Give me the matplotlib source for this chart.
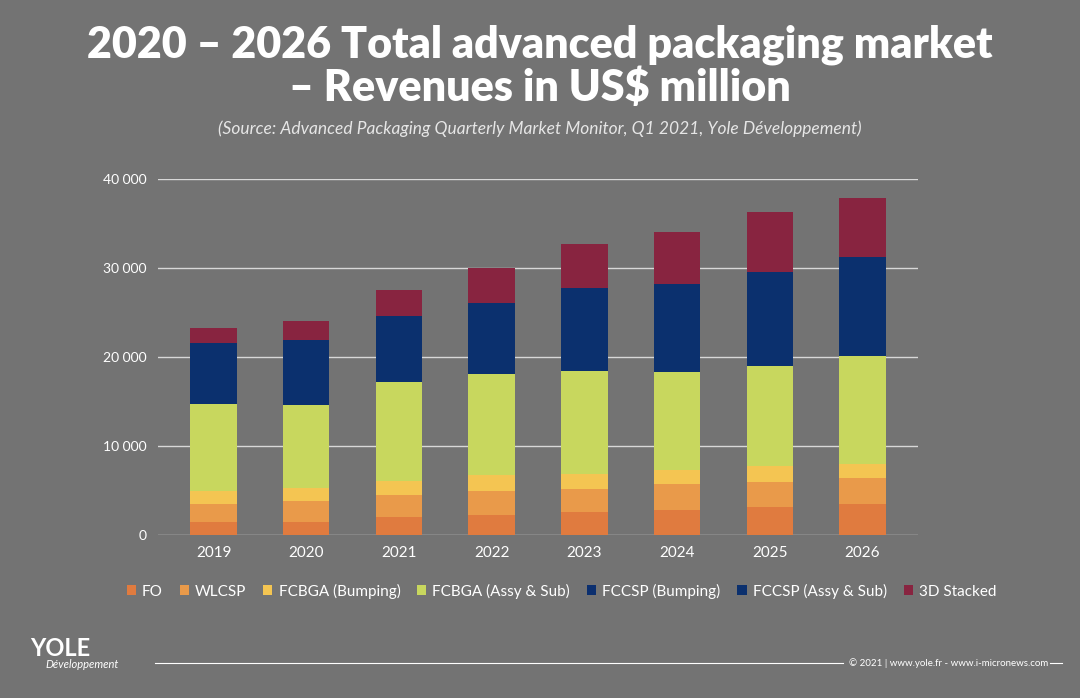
import matplotlib
matplotlib.use("Agg")
import matplotlib.pyplot as plt
import numpy as np

years = ["2019", "2020", "2021", "2022", "2023", "2024", "2025", "2026"]
series_names = ["FO", "WLCSP", "FCBGA (Bumping)", "FCBGA (Assy & Sub)",
                "FCCSP (Bumping)", "FCCSP (Assy & Sub)", "3D Stacked"]
fo = [1490, 1490, 2000, 2200, 2600, 2850, 3150, 3450]
wlcsp = [2030, 2330, 2500, 2700, 2600, 2850, 2850, 2950]
fcbga_bump = [1420, 1420, 1570, 1800, 1700, 1600, 1700, 1600]
fcbga_assy = [9760, 9360, 11130, 11400, 11500, 11050, 11300, 12100]
fccsp_bump = [0, 0, 0, 0, 0, 0, 0, 0]
fccsp_assy = [6900, 7300, 7400, 8000, 9400, 9850, 10600, 11100]
stacked_3d = [1700, 2100, 2900, 3900, 4900, 5900, 6700, 6700]
yticks = [0, 10000, 20000, 30000, 40000]
ytick_labels = ["0", "10 000", "20 000", "30 000", "40 000"]

colors = ["#e07b3f", "#e99a4a", "#f4c552", "#c8d75e", "#0b2f6f", "#0b306e", "#882440"]
data = [fo, wlcsp, fcbga_bump, fcbga_assy, fccsp_bump, fccsp_assy, stacked_3d]

bg = "#737373"
fig = plt.figure(figsize=(10.8, 6.98), dpi=100, facecolor=bg)
ax = fig.add_axes([158/1080, 1-535/698, (918-158)/1080, (535-179)/698], facecolor=bg)

x = np.arange(len(years))
bottom = np.zeros(len(years))
handles = []
for name, vals, c in zip(series_names, data, colors):
    b = ax.bar(x, vals, 0.5, bottom=bottom, color=c, label=name, zorder=3)
    handles.append(b)
    bottom += np.array(vals)

ax.set_xlim(-0.6, len(years) - 0.4)
ax.set_ylim(0, 40000)
ax.set_yticks(yticks)
ax.set_yticklabels(ytick_labels, fontsize=10, color="white", fontfamily="Lato")
ax.set_xticks(x)
ax.set_xticklabels(years, fontsize=11, color="white", fontfamily="Lato")
ax.tick_params(length=0, pad=8)
ax.yaxis.grid(True, color="#d8d8d8", linewidth=1, zorder=0)
for s in ax.spines.values():
    s.set_visible(False)

fig.text(0.5, 1-45/698, "2020 – 2026 Total advanced packaging market", ha="center", va="center",
         fontsize=31, fontweight="heavy", color="white", fontfamily="Lato")
fig.text(0.5, 1-88/698, "– Revenues in US$ million", ha="center", va="center",
         fontsize=31, fontweight="heavy", color="white", fontfamily="Lato")
fig.text(0.5, 1-129/698, "(Source: Advanced Packaging Quarterly Market Monitor, Q1 2021, Yole Développement)",
         ha="center", va="center", fontsize=12.5, style="italic", color="#e6e6e6", fontfamily="Lato")

leg = fig.legend(handles=handles, loc="center", bbox_to_anchor=(0.52, 1-591/698), ncol=7,
                 frameon=False, handlelength=0.6, handleheight=0.6,
                 handletextpad=0.4, columnspacing=1.1, prop={"family": "Lato", "size": 11})
for t in leg.get_texts():
    t.set_color("white")

fig.text(30/1080, 1-648/698, "YOLE", fontsize=17, fontweight="bold", color="white",
         fontfamily="Lato", va="center")
fig.text(45/1080, 1-665/698, "Développement", fontsize=8, style="italic", color="white",
         fontfamily="Lato", va="center")
fig.add_artist(plt.Line2D([155/1080, 843/1080], [1-663/698]*2, color="white", linewidth=0.8))
fig.add_artist(plt.Line2D([1050/1080, 1062/1080], [1-663/698]*2, color="white", linewidth=0.8))
fig.text(1048/1080, 1-663/698, "© 2021 | www.yole.fr - www.i-micronews.com", ha="right", va="center",
         fontsize=7, color="white", fontfamily="Lato")

fig.savefig("out.png", dpi=100, facecolor=bg)
